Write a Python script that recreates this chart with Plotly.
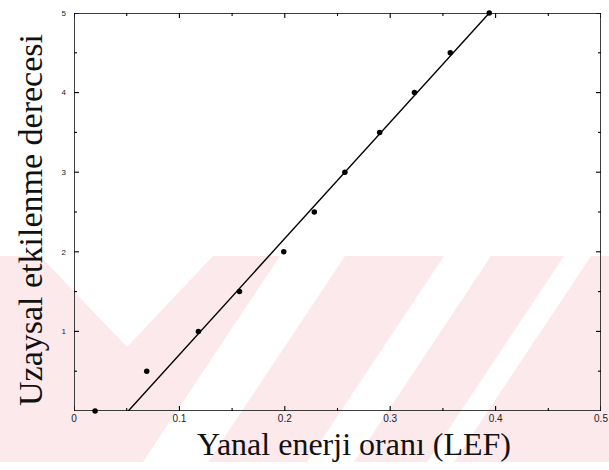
import plotly.graph_objects as go

# Data
lef = [0.02, 0.069, 0.118, 0.157, 0.199, 0.228, 0.257, 0.290, 0.323, 0.357, 0.394]
degree = [0.0, 0.5, 1.0, 1.5, 2.0, 2.5, 3.0, 3.5, 4.0, 4.5, 5.0]
fit_x = [0.0515, 0.394]
fit_y = [0.0, 5.0]

x_range = [0, 0.5]
y_range = [0, 5]
x_ticks = [0, 0.05, 0.1, 0.15, 0.2, 0.25, 0.3, 0.35, 0.4, 0.45, 0.5]
x_ticklabels = ["0", "", "0.1", "", "0.2", "", "0.3", "", "0.4", "", "0.5"]
y_ticks = [0.5, 1, 1.5, 2, 2.5, 3, 3.5, 4, 4.5, 5]
y_ticklabels = ["", "1", "", "2", "", "3", "", "4", "", "5"]

W, H = 609, 470
ML, MR, MT, MB = 74, 8, 13, 59
PW, PH = W - ML - MR, H - MT - MB
x_per_px = (x_range[1] - x_range[0]) / PW
y_per_px = (y_range[1] - y_range[0]) / PH


def px(x):
    return (x - ML) / PW


def py(y):
    return (H - MB - y) / PH


fig = go.Figure()

# plot frame and inward ticks on all four sides, drawn as line traces
x0, x1 = x_range
y0, y1 = y_range
fig.add_trace(go.Scatter(x=[x0, x1, x1, x0, x0], y=[y0, y0, y1, y1, y0],
                         mode="lines", line=dict(color="black", width=1.5),
                         showlegend=False, hoverinfo="skip", cliponaxis=False))
tx, ty = [], []
for v, lab in zip(x_ticks, x_ticklabels):
    ln = (5 if lab else 3) * y_per_px
    tx += [v, v, None, v, v, None]
    ty += [y0, y0 + ln, None, y1, y1 - ln, None]
for v, lab in zip(y_ticks, y_ticklabels):
    ln = (5 if lab else 3) * x_per_px
    tx += [x0, x0 + ln, None, x1, x1 - ln, None]
    ty += [v, v, None, v, v, None]
fig.add_trace(go.Scatter(x=tx, y=ty, mode="lines",
                         line=dict(color="black", width=1.1),
                         showlegend=False, hoverinfo="skip", cliponaxis=False))

fig.add_trace(go.Scatter(x=fit_x, y=fit_y, mode="lines",
                         line=dict(color="black", width=1.4),
                         showlegend=False, hoverinfo="skip"))
fig.add_trace(go.Scatter(x=lef, y=degree, mode="markers",
                         marker=dict(color="black", size=5.5),
                         showlegend=False, cliponaxis=False))

# faint watermark of the scanned page (decorative background)
pink = "#fce9ec"
top, bot = 256, 462
shapes = [dict(type="rect", xref="paper", yref="paper", layer="below",
               x0=px(0), x1=px(W), y0=py(bot), y1=py(top),
               fillcolor=pink, line=dict(width=0))]


def poly(pts):
    p = "M " + " L ".join(f"{px(a):.4f},{py(b):.4f}" for a, b in pts) + " Z"
    return dict(type="path", xref="paper", yref="paper", layer="below",
                path=p, fillcolor="white", line=dict(width=0))


shapes.append(poly([(40, top), (213, top), (127, 347)]))
shift = 137
for a, b in [(280, 345), (444, 491), (564, 591)]:
    shapes.append(poly([(a, top), (b, top), (b - shift, bot), (a - shift, bot)]))

axis_common = dict(ticks="", showline=False, showgrid=False, zeroline=False)

fig.update_layout(
    width=W, height=H,
    margin=dict(l=ML, r=MR, t=MT, b=MB, autoexpand=False),
    paper_bgcolor="white", plot_bgcolor="rgba(255,255,255,0)",
    shapes=shapes,
    font=dict(family="Liberation Sans", color="#111111"),
    xaxis=dict(range=x_range, tickmode="array", tickvals=x_ticks,
               ticktext=x_ticklabels,
               tickfont=dict(size=10, family="Liberation Sans", color="#222222"),
               **axis_common),
    yaxis=dict(range=y_range, tickmode="array", tickvals=y_ticks,
               ticktext=y_ticklabels, ticklabelstandoff=7,
               tickfont=dict(size=8, family="Liberation Sans", color="#222222"),
               **axis_common),
    annotations=[
        dict(text="Yanal enerji oranı (LEF)", xref="paper", yref="paper",
             x=px(353.5), y=py(444), xanchor="center", yanchor="middle",
             showarrow=False,
             font=dict(family="Liberation Serif", size=32, color="#111111")),
        dict(text="Uzaysal etkilenme derecesi", xref="paper", yref="paper",
             x=px(30), y=py(220), xanchor="center", yanchor="middle",
             textangle=-90, showarrow=False,
             font=dict(family="Liberation Serif", size=34, color="#111111")),
    ],
)

fig.write_html("out.html", config={"displayModeBar": False},
               post_script="document.body.style.margin='0';document.body.style.overflow='hidden';")
